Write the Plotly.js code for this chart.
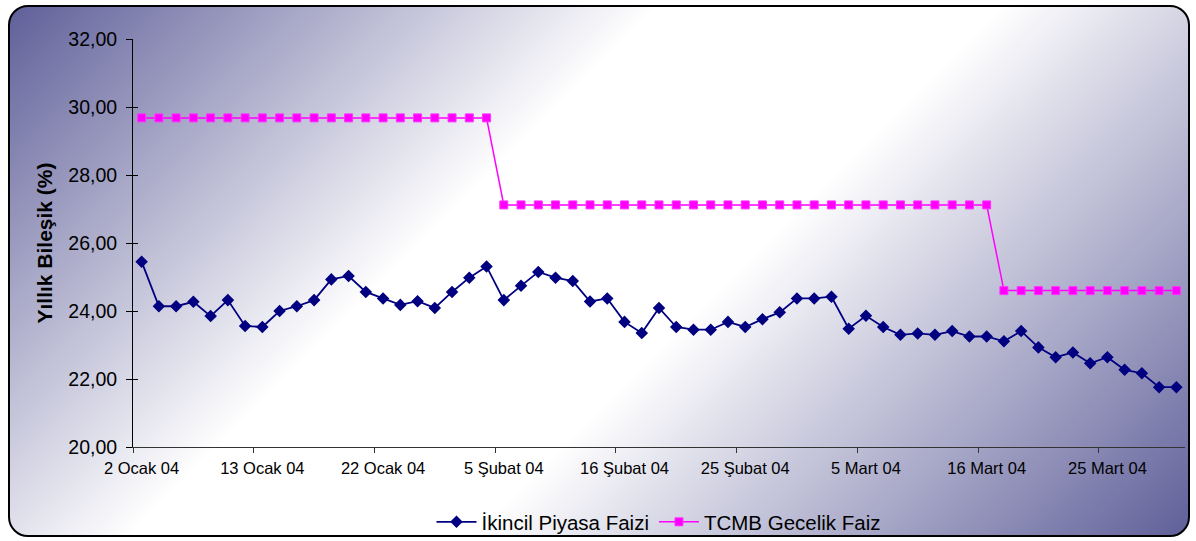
<!DOCTYPE html>
<html>
<head>
<meta charset="utf-8">
<script src="https://cdn.plot.ly/plotly-3.0.1.min.js"></script>
<style>
  html, body { margin: 0; padding: 0; background: #ffffff; }
  #wrap { position: relative; width: 1196px; height: 541px; overflow: hidden; }
  #bg {
    position: absolute; left: 8px; top: 5px; width: 1178px; height: 528px;
    border: 2px solid #000; border-radius: 20px;
    background: linear-gradient(135deg, #60609a 0%, #ffffff 38%, #ffffff 58%, #60609a 100%);
  }
  #chart { position: absolute; left: 0; top: 0; width: 1196px; height: 541px; }
</style>
</head>
<body>
<div id="wrap"><div id="bg"></div><div id="chart"></div></div>
<script>
// Trading days (x categories)
const dates = [
  "2 Ocak 04","5 Ocak 04","6 Ocak 04","7 Ocak 04","8 Ocak 04","9 Ocak 04","12 Ocak 04",
  "13 Ocak 04","14 Ocak 04","15 Ocak 04","16 Ocak 04","19 Ocak 04","20 Ocak 04","21 Ocak 04",
  "22 Ocak 04","23 Ocak 04","26 Ocak 04","27 Ocak 04","28 Ocak 04","29 Ocak 04","30 Ocak 04",
  "5 Şubat 04","6 Şubat 04","9 Şubat 04","10 Şubat 04","11 Şubat 04","12 Şubat 04","13 Şubat 04",
  "16 Şubat 04","17 Şubat 04","18 Şubat 04","19 Şubat 04","20 Şubat 04","23 Şubat 04","24 Şubat 04",
  "25 Şubat 04","26 Şubat 04","27 Şubat 04","1 Mart 04","2 Mart 04","3 Mart 04","4 Mart 04",
  "5 Mart 04","8 Mart 04","9 Mart 04","10 Mart 04","11 Mart 04","12 Mart 04","15 Mart 04",
  "16 Mart 04","17 Mart 04","18 Mart 04","19 Mart 04","22 Mart 04","23 Mart 04","24 Mart 04",
  "25 Mart 04","26 Mart 04","29 Mart 04","30 Mart 04","31 Mart 04"
];

// İkincil Piyasa Faizi (secondary market rate, % compound)
const ikincilPiyasa = [
  25.45, 24.14, 24.14, 24.27, 23.85, 24.32, 23.56,
  23.53, 24.00, 24.14, 24.32, 24.93, 25.03, 24.56,
  24.37, 24.18, 24.29, 24.09, 24.56, 24.98, 25.31,
  24.32, 24.74, 25.15, 24.98, 24.88, 24.28, 24.37,
  23.68, 23.35, 24.09, 23.53, 23.45, 23.45, 23.68,
  23.53, 23.76, 23.96, 24.37, 24.37, 24.42, 23.48,
  23.86, 23.53, 23.30, 23.34, 23.30, 23.41, 23.25,
  23.25, 23.11, 23.41, 22.93, 22.64, 22.78, 22.46,
  22.64, 22.27, 22.17, 21.76, 21.76
];

// TCMB Gecelik Faiz (CBRT overnight rate, % compound)
const tcmbGecelik = [
  29.68, 29.68, 29.68, 29.68, 29.68, 29.68, 29.68,
  29.68, 29.68, 29.68, 29.68, 29.68, 29.68, 29.68,
  29.68, 29.68, 29.68, 29.68, 29.68, 29.68, 29.68,
  27.12, 27.12, 27.12, 27.12, 27.12, 27.12, 27.12,
  27.12, 27.12, 27.12, 27.12, 27.12, 27.12, 27.12,
  27.12, 27.12, 27.12, 27.12, 27.12, 27.12, 27.12,
  27.12, 27.12, 27.12, 27.12, 27.12, 27.12, 27.12,
  27.12, 24.60, 24.60, 24.60, 24.60, 24.60, 24.60,
  24.60, 24.60, 24.60, 24.60, 24.60
];

// Labelled ticks on the category axis
const tickLabels = ["2 Ocak 04","13 Ocak 04","22 Ocak 04","5 Şubat 04","16 Şubat 04",
                    "25 Şubat 04","5 Mart 04","16 Mart 04","25 Mart 04"];
const yTicks = [20, 22, 24, 26, 28, 30, 32];

const seriesNames = ["İkincil Piyasa Faizi", "TCMB Gecelik Faiz"];

const idx = dates.map((d, i) => i);
const tickIdx = tickLabels.map(t => dates.indexOf(t));
const boundaryIdx = tickIdx.map(i => i - 0.5);
const xRange = [-0.5, dates.length - 0.5];
const yRange = [yTicks[0], yTicks[yTicks.length - 1]];

const FONT = "Liberation Sans, Arial, sans-serif";

const traces = [
  {
    x: idx, y: ikincilPiyasa, name: seriesNames[0], type: "scatter", mode: "lines+markers",
    text: dates, hoverinfo: "text+y",
    line: { color: "#000080", width: 1.8 },
    marker: { symbol: "diamond", size: 8, color: "#000080", line: { color: "#000080", width: 1.5 } },
    xaxis: "x", yaxis: "y"
  },
  {
    x: idx, y: tcmbGecelik, name: seriesNames[1], type: "scatter", mode: "lines+markers",
    text: dates, hoverinfo: "text+y",
    line: { color: "#ff00ff", width: 1.5 },
    marker: { symbol: "square", size: 8, color: "#ff00ff", line: { color: "#ff33ff", width: 1 } },
    xaxis: "x2", yaxis: "y2"
  }
];

const hiddenAxis = {
  showgrid: false, zeroline: false, showline: false, showticklabels: false
};

const layout = {
  width: 1196, height: 541,
  margin: { l: 133, r: 11, t: 39, b: 94, pad: 0 },
  paper_bgcolor: "rgba(0,0,0,0)",
  plot_bgcolor: "rgba(0,0,0,0)",
  separators: ",.",
  font: { family: FONT, color: "#000", size: 16 },
  showlegend: true,
  legend: {
    orientation: "h", xref: "paper", x: 0.5, xanchor: "center",
    yref: "container", y: 1 - 522 / 541, yanchor: "middle",
    font: { family: FONT, size: 20.5, color: "#000" }, bgcolor: "rgba(0,0,0,0)",
    itemwidth: 40
  },
  xaxis: {
    range: xRange, fixedrange: true,
    tickmode: "array", tickvals: tickIdx, ticktext: tickLabels,
    ticks: "", showgrid: false, zeroline: false,
    showline: true, linecolor: "#333", linewidth: 1,
    tickfont: { family: FONT, size: 16.5, color: "#000" },
    ticklabelstandoff: 6
  },
  xaxis2: Object.assign({}, hiddenAxis, {
    overlaying: "x", anchor: "y", side: "bottom", range: xRange, fixedrange: true,
    tickmode: "array", tickvals: boundaryIdx, ticks: "outside", ticklen: 5, tickwidth: 1, tickcolor: "#333"
  }),
  xaxis3: Object.assign({}, hiddenAxis, {
    overlaying: "x", anchor: "y", side: "bottom", range: xRange, fixedrange: true,
    tickmode: "array", tickvals: boundaryIdx, ticks: "inside", ticklen: 4, tickwidth: 1, tickcolor: "#333"
  }),
  yaxis: {
    range: yRange, fixedrange: true,
    tickmode: "array", tickvals: yTicks, tickformat: ".2f",
    ticks: "outside", ticklen: 6, tickwidth: 1, tickcolor: "#000",
    showgrid: false, zeroline: false,
    showline: true, linecolor: "#000", linewidth: 1,
    tickfont: { family: FONT, size: 19.5, color: "#000" },
    ticklabelstandoff: 5,
    title: { text: "Yıllık Bileşik (%)", font: { family: FONT, size: 21, color: "#000", weight: "bold" }, standoff: 9 }
  },
  yaxis2: Object.assign({}, hiddenAxis, {
    overlaying: "y", anchor: "x", side: "left", range: yRange, fixedrange: true,
    tickmode: "array", tickvals: yTicks, ticks: "inside", ticklen: 5, tickwidth: 1, tickcolor: "#000"
  })
};

Plotly.newPlot("chart", traces, layout, { staticPlot: true, displayModeBar: false });
</script>
</body>
</html>
